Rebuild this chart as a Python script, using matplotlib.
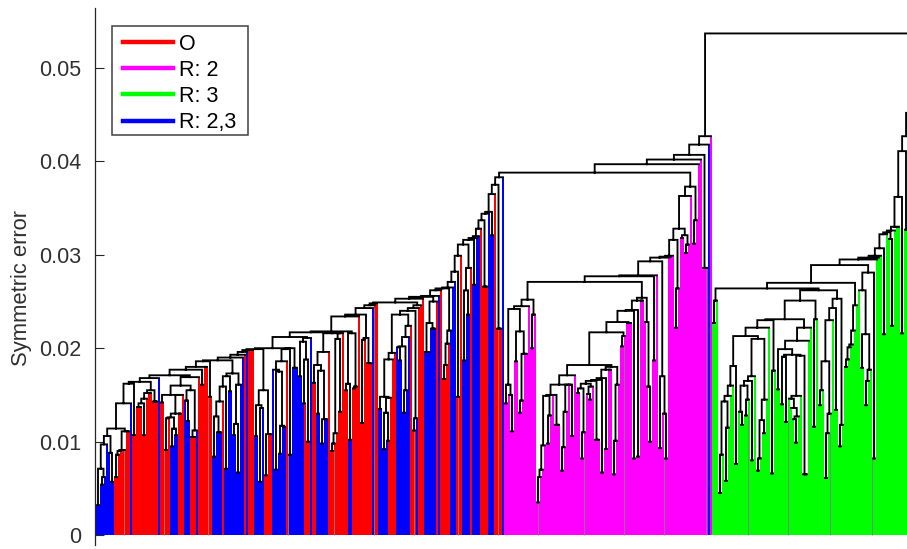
import matplotlib
matplotlib.use('Agg')
import matplotlib.pyplot as plt
from matplotlib.lines import Line2D
from matplotlib.patches import Rectangle
import numpy as np

plt.rcParams['font.family'] = ['Liberation Sans', 'DejaVu Sans']

# merge height between neighbouring leaves, left to right (units of 1e-4)
gaps_mixed = [32, 71, 54, 62, 97, 106, 88, 57, 114, 62,
              86, 90, 91, 91, 111, 111, 141, 162, 107, 164,
              137, 137, 141, 107, 146, 152, 152, 155, 143, 143,
              168, 171, 142, 150, 91, 125, 126, 95, 114, 107,
              130, 130, 150, 160, 144, 122, 155, 105, 105, 112,
              169, 177, 161, 180, 180, 186, 148, 187, 84, 127,
              110, 110, 143, 159, 71, 170, 154, 173, 107, 119,
              67, 161, 190, 193, 196, 198, 198, 198, 199, 106,
              139, 57, 136, 155, 64, 108, 108, 200, 177, 70,
              175, 87, 117, 116, 186, 199, 86, 200, 179, 179,
              212, 170, 207, 141, 188, 100, 211]
join_ab = 217
gaps_mixed2 = [163, 182, 130, 176, 98, 124, 124, 196, 216, 90,
               98, 109, 210, 132, 216, 218, 155, 162, 102, 216,
               157, 159, 234, 236, 120, 209, 211, 184, 184, 243,
               246, 248, 249, 135, 148, 92, 131, 101, 147, 188,
               195, 236, 201, 187, 202, 131, 155, 212, 224, 240,
               112, 125, 243, 246, 253, 255, 196, 196, 227, 221,
               221, 250, 256, 262, 264, 167, 182, 205, 219, 265,
               271, 282, 148, 299, 311, 187, 262, 236, 286, 316,
               268, 318, 320, 328, 337, 266, 266, 344, 346, 321,
               365, 375, 221, 221, 383]
join_bc = 388
gaps_magenta = [141, 161, 150, 111, 242, 186, 218, 131, 144, 194,
                194, 245, 252, 200, 236, 271, 35, 62, 70, 96,
                149, 98, 128, 150, 150, 118, 118, 161, 69, 94,
                132, 161, 161, 106, 171, 182, 152, 157, 82, 110,
                162, 151, 145, 159, 165, 102, 102, 166, 67, 168,
                92, 177, 177, 180, 65, 101, 161, 217, 202, 213,
                228, 227, 227, 240, 82, 241, 84, 251, 251, 254,
                228, 159, 100, 277, 187, 278, 293, 93, 170, 130,
                82, 297, 298, 299, 316, 222, 264, 328, 318, 321,
                302, 311, 363, 373, 312, 337, 397, 402, 407, 286,
                286, 418, 427]
join_root = 537
gaps_green = [227, 251, 264, 45, 86, 143, 58, 115, 149, 160,
              181, 76, 213, 132, 118, 160, 128, 145, 165, 80,
              170, 210, 69, 82, 123, 109, 145, 222, 230, 66,
              176, 231, 156, 199, 140, 191, 121, 193, 146, 136,
              124, 99, 127, 149, 192, 65, 65, 208, 222, 251,
              116, 231, 262, 139, 155, 186, 61, 109, 130, 230,
              243, 134, 253, 95, 118, 270, 180, 188, 201, 204,
              219, 246, 289, 262, 179, 215, 139, 165, 177, 281,
              82, 295, 297, 299, 307, 215, 322, 324, 317, 224,
              326, 330, 330, 362, 216, 411, 327, 427, 327, 452, 300]

# leaf classes as runs
run_labels = list('brbrbrbrbrbrbrbrbrbrbrbrb') + list('rbrbrbrbrbrbrbrbrbrbrbrbrb') + ['m', 'b', 'm', 'g']
run_counts = [9, 8, 1, 13, 1, 5, 4, 3, 3, 3, 1, 7, 5, 1, 10, 1, 1, 3, 5, 4, 7, 1, 8, 3, 1,
              2, 6, 10, 2, 10, 1, 2, 5, 4, 7, 3, 1, 3, 6, 1, 1, 5, 3, 3, 4, 1, 4, 4, 3, 4, 1,
              102, 1, 1, 102]

# leaves followed by a thin grey line down to the baseline
grey_leaves = [13, 33, 55, 95, 118, 138, 158, 180, 200, 220, 243, 263, 283, 304, 325, 345, 366, 387]

legend_labels = ['O', 'R: 2', 'R: 3', 'R: 2,3']
legend_keys = ['r', 'm', 'g', 'b']
palette = {'r': '#ff0000', 'm': '#ff00ff', 'g': '#00ff00', 'b': '#0000ff'}
y_ticks = [0, 0.01, 0.02, 0.03, 0.04, 0.05]
y_ticklabels = ['0', '0.01', '0.02', '0.03', '0.04', '0.05']

gaps = np.array(gaps_mixed + [join_ab] + gaps_mixed2 + [join_bc] + gaps_magenta
                + [join_root] + gaps_green) * 1e-4
labels = []
for lab, cnt in zip(run_labels, run_counts):
    labels += [lab] * cnt
labels = labels[:len(gaps) + 1]

leaf_h = np.zeros(len(gaps) + 1)
line_x, line_y = [], []


def build(lo, hi):
    """split at the highest gap, returns stem x, node height (None for a leaf)"""
    if lo == hi:
        return float(lo), None
    k = lo + int(np.argmax(gaps[lo:hi]))
    xl, hl = build(lo, k)
    xr, hr = build(k + 1, hi)
    h = gaps[k]
    if hl is None:
        leaf_h[lo] = h
        line_x.extend([xl, xr])
        line_y.extend([h, h])
    else:
        line_x.extend([xl, xl, xr])
        line_y.extend([hl, h, h])
    if hr is None:
        leaf_h[hi] = h
    else:
        line_x.append(xr)
        line_y.append(hr)
    line_x.append(np.nan)
    line_y.append(np.nan)
    return (xl + xr) / 2, h


build(0, len(gaps))

fig = plt.figure(figsize=(9.07, 5.49), dpi=100)
ax = fig.add_axes([94.5 / 907, 4 / 549, (907 - 94.5) / 907, 537 / 549])

leaf_x = np.arange(len(leaf_h))
ax.bar(leaf_x, leaf_h, width=1.04, color=[palette[c] for c in labels], linewidth=0, zorder=1)
ax.vlines(leaf_x[grey_leaves] + 0.5, 0, np.minimum(leaf_h[grey_leaves], leaf_h[np.array(grey_leaves) + 1]),
          color='#808080', lw=0.65, zorder=1.5)
ax.plot(line_x, line_y, color='black', lw=1.35, zorder=2, solid_joinstyle='miter')

ax.set_xlim(-1.25, 405)
ax.set_ylim(-10 / 9340, 527 / 9340)
ax.set_xticks([])
ax.set_yticks(y_ticks)
ax.set_yticklabels(y_ticklabels)
ax.tick_params(axis='y', direction='in', length=6.5, width=0.8, color='#262626',
               labelsize=15.5, labelcolor='#303030', pad=9.5)
for s in ['top', 'right', 'bottom']:
    ax.spines[s].set_visible(False)
ax.spines['left'].set_color('#262626')
ax.spines['left'].set_linewidth(0.9)
ax.spines['left'].set_zorder(5)

fig.text(22 / 907, 1 - 288 / 549, 'Symmetric error', rotation=90, ha='center', va='center',
         fontsize=15.8, color='#303030')

# legend frame is drawn by hand so it sits where the original one does
ax.add_patch(Rectangle((112 / 907, 1 - 134.5 / 549), 136 / 907, 108.5 / 549, transform=fig.transFigure,
                       facecolor='white', edgecolor='#404040', lw=1.1, zorder=5.5, clip_on=False))
handles = [Line2D([], [], color=palette[k], lw=3.2) for k in legend_keys]
leg = ax.legend(handles, legend_labels, loc='upper left', bbox_to_anchor=(115 / 907, 1 - 25.5 / 549),
                bbox_transform=fig.transFigure, borderaxespad=0, fontsize=15.5,
                handlelength=2.33, handletextpad=0.28, labelspacing=0.24, borderpad=0.38,
                frameon=False)
leg.set_zorder(6)

plt.savefig('out.png', dpi=100)
